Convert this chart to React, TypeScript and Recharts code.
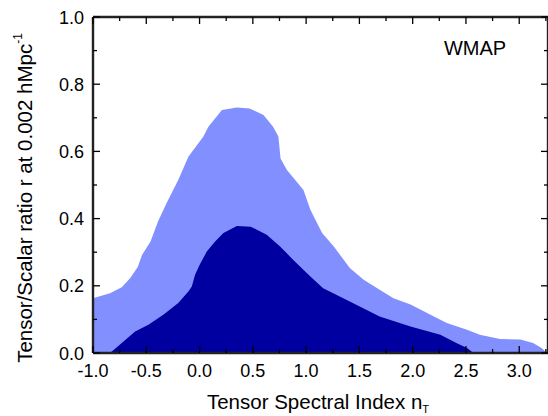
import { ComposedChart, Area, XAxis, YAxis } from "recharts";

// 95% region (light) and 68% region (dark)
const outerX = [-1.0, -0.84, -0.73, -0.65, -0.58, -0.54, -0.46, -0.39, -0.31, -0.2, -0.105, 0.036, 0.083, 0.21, 0.35, 0.47, 0.6, 0.69, 0.74, 0.76, 0.82, 0.975, 1.04, 1.15, 1.26, 1.41, 1.54, 1.69, 1.82, 1.98, 2.2, 2.32, 2.51, 2.63, 2.82, 3.01, 3.13, 3.21, 3.26];
const outerR = [0.163, 0.178, 0.196, 0.223, 0.256, 0.292, 0.332, 0.391, 0.446, 0.515, 0.584, 0.644, 0.673, 0.723, 0.731, 0.728, 0.708, 0.673, 0.644, 0.579, 0.545, 0.485, 0.426, 0.357, 0.317, 0.253, 0.218, 0.188, 0.163, 0.144, 0.109, 0.089, 0.069, 0.054, 0.042, 0.04, 0.03, 0.015, 0];

const innerX = [-0.84, -0.73, -0.605, -0.48, -0.34, -0.2, -0.105, -0.073, -0.042, 0.0, 0.068, 0.146, 0.224, 0.35, 0.48, 0.63, 0.756, 0.88, 1.04, 1.16, 1.41, 1.69, 1.98, 2.26, 2.41, 2.51, 2.57];
const innerR = [0, 0.03, 0.064, 0.084, 0.114, 0.149, 0.183, 0.198, 0.233, 0.262, 0.302, 0.332, 0.357, 0.378, 0.376, 0.352, 0.317, 0.277, 0.228, 0.193, 0.153, 0.109, 0.079, 0.054, 0.03, 0.015, 0];

const xTicks = [-1.0, -0.75, -0.5, -0.25, 0.0, 0.25, 0.5, 0.75, 1.0, 1.25, 1.5, 1.75, 2.0, 2.25, 2.5, 2.75, 3.0, 3.25];
const xLabels = [-1.0, -0.5, 0.0, 0.5, 1.0, 1.5, 2.0, 2.5, 3.0];
const yTicks = [0.0, 0.1, 0.2, 0.3, 0.4, 0.5, 0.6, 0.7, 0.8, 0.9, 1.0];
const yLabels = [0.0, 0.2, 0.4, 0.6, 0.8, 1.0];
const X_DOMAIN = [-1, 3.27];

const byX = new Map<number, { x: number; outer?: number; inner?: number }>();
outerX.forEach((x, i) => byX.set(x, { ...(byX.get(x) || { x }), outer: outerR[i] }));
innerX.forEach((x, i) => byX.set(x, { ...(byX.get(x) || { x }), inner: innerR[i] }));
const data = [...byX.values()].sort((a, b) => a.x - b.x);

const FONT = "Arial, 'Liberation Sans', sans-serif";
const isLabel = (v: number, list: number[]) => list.some((l) => Math.abs(l - v) < 1e-6);

function BottomTick({ x, y, payload }: any) {
    const major = isLabel(payload.value, xLabels);
    return (
        <g>
            <line x1={x} y1={y} x2={x} y2={y - (major ? 7 : 4)} stroke="#000" strokeWidth={1.3} />
            {major && (
                <text x={x} y={y + 24} textAnchor="middle" fontSize={18} fontFamily={FONT} fill="#000">
                    {payload.value.toFixed(1)}
                </text>
            )}
        </g>
    );
}

function TopTick({ x, y, payload }: any) {
    const major = isLabel(payload.value, xLabels);
    return <line x1={x} y1={y} x2={x} y2={y + (major ? 7 : 4)} stroke="#000" strokeWidth={1.3} />;
}

function LeftTick({ x, y, payload }: any) {
    const major = isLabel(payload.value, yLabels);
    return (
        <g>
            <line x1={x} y1={y} x2={x + (major ? 7 : 4)} y2={y} stroke="#000" strokeWidth={1.3} />
            {major && (
                <text x={x - 9} y={y + 6.5} textAnchor="end" fontSize={18} fontFamily={FONT} fill="#000">
                    {payload.value.toFixed(1)}
                </text>
            )}
        </g>
    );
}

function RightTick({ x, y, payload }: any) {
    const major = isLabel(payload.value, yLabels);
    return <line x1={x} y1={y} x2={x - (major ? 7 : 4)} y2={y} stroke="#000" strokeWidth={1.3} />;
}

const axisLine = { stroke: "#222", strokeWidth: 2.4 };

export default function App() {
    return (
        <div style={{ position: "relative", width: 548, height: 416, background: "#fff" }}>
            <style>{"body{margin:0}"}</style>
            <ComposedChart width={548} height={416} data={data} margin={{ top: 7, right: -10, bottom: 0, left: 0 }}>
                <Area
                    xAxisId="b"
                    yAxisId="l"
                    type="linear"
                    dataKey="outer"
                    connectNulls
                    stroke="none"
                    fill="#8290FF"
                    fillOpacity={1}
                    isAnimationActive={false}
                />
                <Area
                    xAxisId="t"
                    yAxisId="r"
                    type="linear"
                    dataKey="inner"
                    connectNulls
                    stroke="none"
                    fill="#0000A0"
                    fillOpacity={1}
                    isAnimationActive={false}
                />
                <XAxis
                    xAxisId="b"
                    dataKey="x"
                    type="number"
                    domain={X_DOMAIN}
                    allowDataOverflow
                    ticks={xTicks}
                    interval={0}
                    tickSize={0}
                    tickMargin={0}
                    tick={<BottomTick />}
                    axisLine={axisLine}
                    tickLine={false}
                    height={63}
                />
                <XAxis
                    xAxisId="t"
                    orientation="top"
                    dataKey="x"
                    type="number"
                    domain={X_DOMAIN}
                    allowDataOverflow
                    ticks={xTicks}
                    interval={0}
                    tickSize={0}
                    tickMargin={0}
                    tick={<TopTick />}
                    axisLine={axisLine}
                    tickLine={false}
                    height={10}
                />
                <YAxis
                    yAxisId="l"
                    type="number"
                    domain={[0, 1]}
                    ticks={yTicks}
                    interval={0}
                    tickSize={0}
                    tickMargin={0}
                    tick={<LeftTick />}
                    axisLine={axisLine}
                    tickLine={false}
                    width={93}
                />
                <YAxis
                    yAxisId="r"
                    orientation="right"
                    type="number"
                    domain={[0, 1]}
                    ticks={yTicks}
                    interval={0}
                    tickSize={0}
                    tickMargin={0}
                    tick={<RightTick />}
                    axisLine={axisLine}
                    tickLine={false}
                    width={10}
                />
            </ComposedChart>
            <svg width={548} height={416} style={{ position: "absolute", left: 0, top: 0, pointerEvents: "none" }}>
                <text x={475} y={55} textAnchor="middle" fontSize={20} fontFamily={FONT} fill="#000">
                    WMAP
                </text>
                <text x={318} y={409} textAnchor="middle" fontSize={20.5} fontFamily={FONT} fill="#000">
                    Tensor Spectral Index n
                    <tspan fontSize={11} dy={4}>T</tspan>
                </text>
                <text
                    transform="translate(32,198) rotate(-90)"
                    textAnchor="middle"
                    fontSize={20.5}
                    fontFamily={FONT}
                    fill="#000"
                >
                    Tensor/Scalar ratio r at 0.002 hMpc
                    <tspan fontSize={12} dy={-10}>-1</tspan>
                </text>
            </svg>
        </div>
    );
}
